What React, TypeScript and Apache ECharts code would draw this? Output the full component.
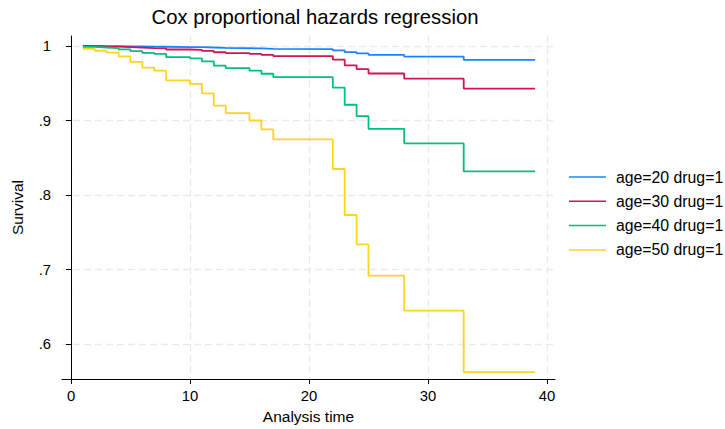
import React, { useEffect, useRef } from "react";
import * as echarts from "echarts";

// Failure times (analysis time) at which the predicted survivor curves step down
const times = [1, 2, 3, 4, 5, 6, 7, 8, 10, 11, 12, 13, 15, 16, 17, 22, 23, 24, 25, 28, 33, 39];

// Predicted survival by age, drug = 1
const survAge20 = [0.9999, 0.9998, 0.9997, 0.9995, 0.9993, 0.999, 0.9989, 0.9985, 0.9983, 0.9979, 0.9973, 0.9969, 0.9966, 0.9961, 0.9956, 0.9941, 0.9916, 0.9899, 0.988, 0.9857, 0.9813, 0.9813];
const survAge30 = [0.9996, 0.9993, 0.9991, 0.9985, 0.9978, 0.997, 0.9966, 0.9952, 0.9947, 0.9933, 0.9915, 0.9904, 0.9893, 0.9879, 0.9864, 0.9817, 0.974, 0.9689, 0.963, 0.9561, 0.9428, 0.9428];
const survAge40 = [0.9987, 0.9979, 0.9971, 0.9954, 0.9931, 0.9906, 0.9893, 0.9849, 0.9834, 0.9792, 0.9737, 0.9703, 0.9668, 0.9627, 0.9581, 0.944, 0.9211, 0.9058, 0.8888, 0.8693, 0.8318, 0.8318];
const survAge50 = [0.996, 0.9935, 0.991, 0.986, 0.9787, 0.971, 0.9668, 0.9537, 0.9491, 0.9364, 0.92, 0.91, 0.9, 0.888, 0.8747, 0.835, 0.7733, 0.734, 0.692, 0.645, 0.5627, 0.5627];

const seriesNames = ["age=20 drug=1", "age=30 drug=1", "age=40 drug=1", "age=50 drug=1"];
const seriesValues = [survAge20, survAge30, survAge40, survAge50];
const seriesColors = ["#1a85ff", "#d41159", "#00bf7f", "#ffd420"];

const xTicks = [0, 10, 20, 30, 40];
const yTicks = [0.6, 0.7, 0.8, 0.9, 1];

const FONT = "'Liberation Sans', Arial, Helvetica, sans-serif";

export default function App() {
  const ref = useRef<HTMLDivElement>(null);

  useEffect(() => {
    if (!ref.current) return;
    const chart = echarts.init(ref.current, undefined, { renderer: "svg" });

    const gridLine = { show: true, lineStyle: { color: "#e9e9e9", width: 1.3, type: [7, 4] as number[] } };

    chart.setOption({
      animation: false,
      backgroundColor: "#ffffff",
      textStyle: { fontFamily: FONT },
      title: {
        text: "Cox proportional hazards regression",
        left: 310,
        textAlign: "center",
        top: 2,
        textStyle: { fontFamily: FONT, fontSize: 20.3, fontWeight: "normal", color: "#000" },
      },
      legend: {
        orient: "vertical",
        left: 564,
        top: 164,
        itemWidth: 37,
        itemHeight: 14,
        itemGap: 8.3,
        icon: "path://M0,6 L37,6 L37,7.5 L0,7.5 Z",
        data: seriesNames,
        textStyle: { fontFamily: FONT, fontSize: 15.8, color: "#000", lineHeight: 14, padding: [0, 0, 0, 5] },
      },
      grid: { left: 62, top: 36, width: 493, height: 345, containLabel: false },
      xAxis: {
        type: "value",
        min: -0.756,
        max: 40.672,
        name: "Analysis time",
        nameLocation: "middle",
        nameGap: 27,
        nameTextStyle: { fontFamily: FONT, fontSize: 15.5, color: "#000" },
        axisLine: { show: true, lineStyle: { color: "#000", width: 1 } },
        axisTick: { show: true, length: 5, customValues: xTicks, lineStyle: { color: "#000" } },
        axisLabel: { customValues: xTicks, margin: 9, fontFamily: FONT, fontSize: 14.8, color: "#000" },
        splitLine: gridLine,
      },
      yAxis: {
        type: "value",
        min: 0.5533,
        max: 1.0133,
        name: "Survival",
        nameLocation: "middle",
        nameGap: 37,
        nameTextStyle: { fontFamily: FONT, fontSize: 15.5, color: "#000" },
        axisLine: { show: true, lineStyle: { color: "#000", width: 1 } },
        axisTick: { show: true, length: 5, customValues: yTicks, lineStyle: { color: "#000" } },
        axisLabel: {
          customValues: yTicks,
          margin: 11,
          fontFamily: FONT,
          fontSize: 14.8,
          color: "#000",
          formatter: (v: number) => (v >= 1 ? "1" : String(Math.round(v * 10) / 10).replace(/^0/, "")),
        },
        splitLine: gridLine,
      },
      series: seriesNames.map((name, i) => ({
        name,
        type: "line",
        step: "end",
        symbol: "none",
        showSymbol: false,
        color: seriesColors[i],
        lineStyle: { color: seriesColors[i], width: 1.8 },
        data: times.map((t, j) => [t, seriesValues[i][j]]),
      })),
    });

    return () => chart.dispose();
  }, []);

  return <div ref={ref} style={{ width: 725, height: 429, position: "absolute", left: 0, top: 0 }} />;
}
